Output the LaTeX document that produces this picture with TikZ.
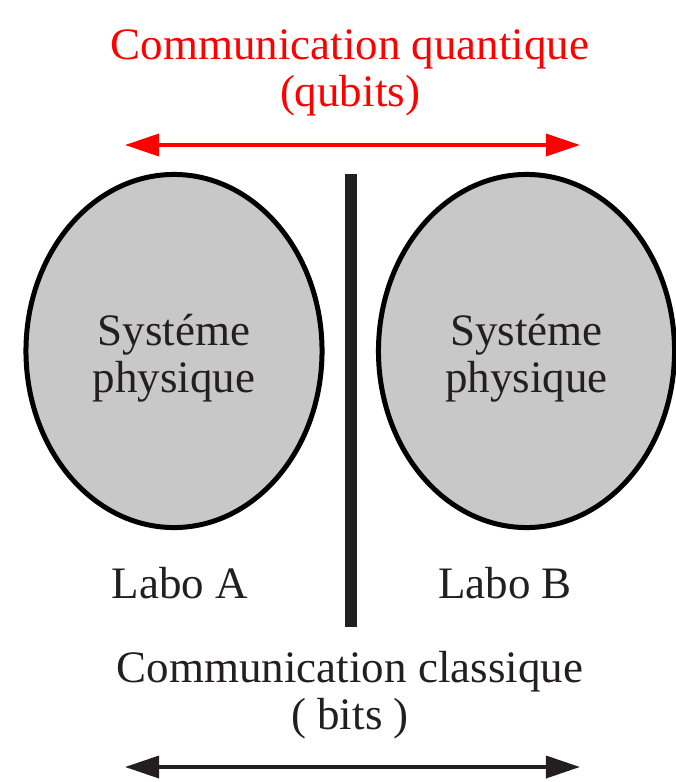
\documentclass[tikz,border=0pt]{standalone}
\usepackage{fontspec}
\setmainfont{Liberation Serif}
\usepackage{xcolor}
\usetikzlibrary{shapes.geometric, arrows.meta, positioning}
\definecolor{quantumRed}{HTML}{FF0000}
\definecolor{labInk}{HTML}{231F20}
\definecolor{labGray}{HTML}{C8C8C8}

\begin{document}
\begin{tikzpicture}[x=0.025cm, y=-0.025cm,
    lbl/.style={font=\fontsize{32}{33.4}\selectfont, align=center, inner sep=0pt, text=labInk},
    lab/.style={ellipse, draw=black, fill=labGray, line width=0.125cm,
      minimum width=7.4cm, minimum height=8.825cm, inner sep=0pt},
    chan/.style={{Triangle[length=0.85cm, width=0.55cm]}-{Triangle[length=0.85cm, width=0.55cm]}, line width=0.0875cm}
  ]
  \useasboundingbox (0,0) rectangle (676,782);
  % quantum channel
  \node[lbl, text=quantumRed] (titleQ) at (350,73) {Communication quantique\\(qubits)};
  \coordinate (qL) at (125,145);
  \coordinate (qR) at (580,145);
  \draw[chan, quantumRed] (qL) -- (qR);
  % the two labs
  \node[lab] (sysA) at (174,351) {};
  \node[lab] (sysB) at (526.5,351) {};
  \node[lbl, font=\fontsize{32}{33.8}\selectfont] (sysAtxt) at ([yshift=-0.175cm]sysA.center) {Systéme\\physique};
  \node[lbl, font=\fontsize{32}{33.8}\selectfont] (sysBtxt) at ([yshift=-0.175cm]sysB.center) {Systéme\\physique};
  \node[lbl] (labA) at (180,583) {Labo A};
  \node[lbl] (labB) at (505,583) {Labo B};
  % wall
  \node[rectangle, fill=labInk, minimum width=0.3cm, minimum height=11.325cm, inner sep=0pt] (wall) at (351,400.5) {};
  % classical channel
  \node[lbl] (titleC) at (350,695) {Communication classique\\( bits )};
  \coordinate (cL) at (125,767);
  \coordinate (cR) at (580,767);
  \draw[chan, labInk] (cL) -- (cR);
\end{tikzpicture}
\end{document}
